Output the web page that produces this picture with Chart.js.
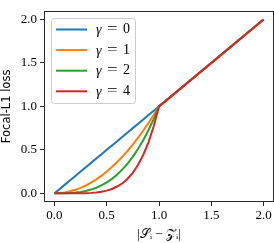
<!DOCTYPE html>
<html>
<head>
<meta charset="utf-8">
<script src="https://cdn.jsdelivr.net/npm/chart.js@4.4.1/dist/chart.umd.min.js"></script>
<style>
html,body{margin:0;padding:0;background:#fff;}
canvas{display:block;}
</style>
</head>
<body>
<canvas id="c" width="274" height="243"></canvas>
<script>
// Data
const xValues = [0,0.05,0.1,0.15,0.2,0.25,0.3,0.35,0.4,0.45,0.5,0.55,0.6,0.65,0.7,0.75,0.8,0.85,0.9,0.95,1.0,2.0];
const gamma0 = [0,0.05,0.1,0.15,0.2,0.25,0.3,0.35,0.4,0.45,0.5,0.55,0.6,0.65,0.7,0.75,0.8,0.85,0.9,0.95,1.0,2.0];
const gamma1 = [0,0.003,0.010,0.023,0.040,0.063,0.090,0.123,0.160,0.203,0.250,0.303,0.360,0.423,0.490,0.563,0.640,0.723,0.810,0.903,1.0,2.0];
const gamma2 = [0,0.000,0.001,0.003,0.008,0.016,0.027,0.043,0.064,0.091,0.125,0.166,0.216,0.275,0.343,0.422,0.512,0.614,0.729,0.857,1.0,2.0];
const gamma4 = [0,0,0,0,0,0.001,0.002,0.005,0.010,0.018,0.031,0.050,0.078,0.116,0.168,0.237,0.328,0.444,0.590,0.774,1.0,2.0];
const seriesLabels = ['0','1','2','4'];
const seriesColors = ['#1f77b4','#ff7f0e','#2ca02c','#d62728'];
const xTicks = [0,0.5,1.0,1.5,2.0];
const yTicks = [0,0.5,1.0,1.5,2.0];
const yTitle = 'Focal-L1 loss';
const xTitle = '|\u{1D4AE}\u1D62 \u2212 \u{1D4B5}\u1D62|';

const allSeries = [gamma0, gamma1, gamma2, gamma4];
const datasets = allSeries.map((s, i) => ({
  label: seriesLabels[i],
  data: s.map((v, j) => ({x: xValues[j], y: v})),
  borderColor: seriesColors[i],
  backgroundColor: seriesColors[i],
  borderWidth: 2,
  pointRadius: 0,
  tension: 0,
  fill: false,
  order: allSeries.length - 1 - i
}));

const serif = "'Liberation Serif', 'DejaVu Serif', serif";

const framePlugin = {
  id: 'frame',
  afterDatasetsDraw(chart) {
    const {ctx, chartArea: a} = chart;
    ctx.save();
    ctx.strokeStyle = '#262626';
    ctx.lineWidth = 1;
    ctx.strokeRect(Math.round(a.left) + 0.5, Math.round(a.top) + 0.5, Math.round(a.right - a.left) - 1, Math.round(a.bottom - a.top) - 1);
    ctx.restore();
  }
};

const legendPlugin = {
  id: 'innerLegend',
  afterDraw(chart) {
    const {ctx, chartArea: a} = chart;
    const x0 = Math.round(a.left) + 7, y0 = Math.round(a.top) + 7, w = 84, h = 85;
    ctx.save();
    ctx.beginPath();
    if (ctx.roundRect) ctx.roundRect(x0 + 0.5, y0 + 0.5, w, h, 3); else ctx.rect(x0 + 0.5, y0 + 0.5, w, h);
    ctx.fillStyle = 'rgba(255,255,255,0.8)';
    ctx.fill();
    ctx.strokeStyle = '#cccccc';
    ctx.lineWidth = 1;
    ctx.stroke();
    chart.data.datasets.forEach((ds, i) => {
      const cy = y0 + 11.5 + i * 20.6;
      ctx.strokeStyle = ds.borderColor;
      ctx.lineWidth = 2;
      ctx.beginPath();
      ctx.moveTo(x0 + 5, cy);
      ctx.lineTo(x0 + 36, cy);
      ctx.stroke();
      ctx.fillStyle = '#000';
      ctx.textBaseline = 'middle';
      ctx.textAlign = 'left';
      ctx.font = 'italic 14px ' + serif;
      ctx.fillText('\u03B3', x0 + 45, cy + 1);
      ctx.font = '14px ' + serif;
      ctx.save();
      ctx.translate(x0 + 56, cy);
      ctx.scale(1.35, 1);
      ctx.fillText('=', 0, 0);
      ctx.restore();
      ctx.fillText(ds.label, x0 + 72, cy);
    });
    ctx.restore();
  }
};

new Chart(document.getElementById('c'), {
  type: 'line',
  data: { datasets },
  options: {
    responsive: false,
    devicePixelRatio: 1,
    animation: false,
    layout: { padding: { top: 0, right: 0, left: 0, bottom: 0 } },
    plugins: { legend: { display: false }, tooltip: { enabled: false } },
    scales: {
      x: {
        type: 'linear',
        min: -0.1, max: 2.1,
        afterBuildTicks: s => { s.ticks = xTicks.map(v => ({value: v})); },
        afterFit: s => { s.height = 41; },
        ticks: { callback: v => v.toFixed(1), color: '#000', font: { family: serif, size: 13 }, padding: 2, maxRotation: 0, autoSkip: false },
        grid: { drawOnChartArea: false, drawTicks: true, tickLength: 4, color: '#262626', lineWidth: 1 },
        border: { display: false },
        title: { display: true, text: xTitle, color: '#000', font: { family: serif, size: 13 }, padding: { top: 0, bottom: 1 } }
      },
      y: {
        type: 'linear',
        min: -0.1, max: 2.1,
        afterBuildTicks: s => { s.ticks = yTicks.map(v => ({value: v})); },
        afterFit: s => { s.width = 44; },
        ticks: { callback: v => v.toFixed(1), color: '#000', font: { family: serif, size: 13 }, padding: 3, autoSkip: false },
        grid: { drawOnChartArea: false, drawTicks: true, tickLength: 4, color: '#262626', lineWidth: 1 },
        border: { display: false },
        title: { display: true, text: yTitle, color: '#000', font: { family: "'DejaVu Sans', sans-serif", size: 11.5 }, padding: { top: 0, bottom: 0 } }
      }
    }
  },
  plugins: [framePlugin, legendPlugin]
});
</script>
</body>
</html>
